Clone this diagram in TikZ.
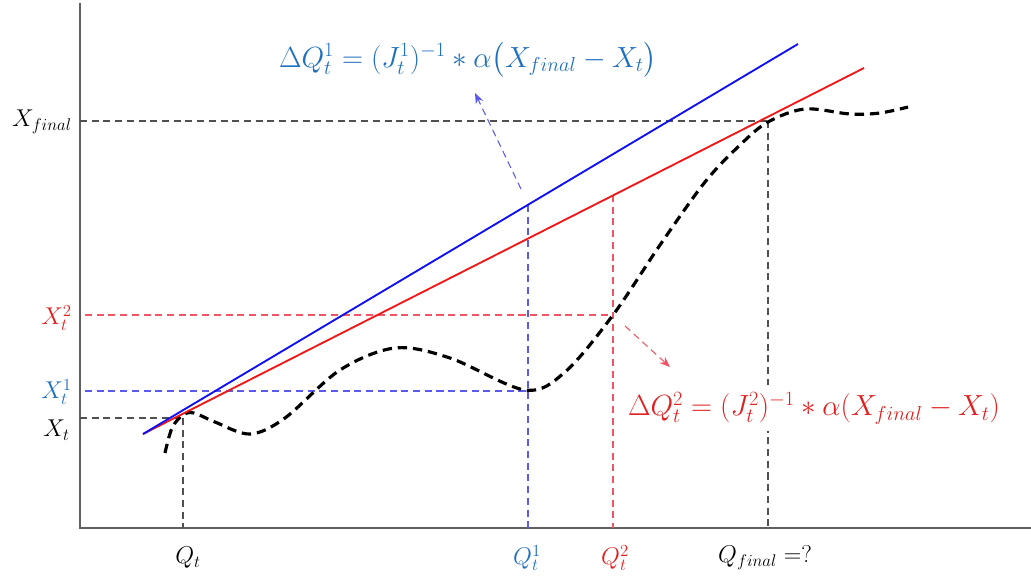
\documentclass[tikz,border=0pt]{standalone}
\usepackage{amsmath}
\usetikzlibrary{arrows.meta}
\definecolor{axisgrey}{HTML}{606060}
\definecolor{guidegrey}{HTML}{505050}
\definecolor{lineblue}{HTML}{1010F0}
\definecolor{linered}{HTML}{F01818}
\definecolor{textblue}{HTML}{1F6FBF}
\definecolor{textred}{HTML}{E0201F}
\definecolor{guideblue}{HTML}{5A5AF0}
\definecolor{guidered}{HTML}{F05565}
\begin{document}
\begin{tikzpicture}[x=0.03cm,y=-0.03cm,
  axisline/.style={draw=axisgrey,line width=1.4pt},
  guide/.style={line width=0.9pt,dash pattern=on 6pt off 4pt},
  lbl/.style={inner sep=0pt,font=\fontsize{21}{24}\selectfont},
  formula/.style={inner sep=0pt,font=\fontsize{25}{28}\selectfont},
  curvestyle/.style={line width=2.7pt,dash pattern=on 8pt off 5pt,black}
]
\useasboundingbox (0,0) rectangle (1031,584);
% axes
\coordinate (otop) at (80,3);
\coordinate (orig) at (80,528);
\coordinate (xend) at (1031,528);
\draw[axisline] (otop) -- (orig) -- (xend);
% key points
\coordinate (start) at (143,434);
\coordinate (bend) at (798,44);
\coordinate (rend) at (864,68);
\coordinate (pb) at (528,205);
\coordinate (pr) at (613,195);
\coordinate (pf) at (768,121);
\coordinate (pt) at (183,418);
% guides
\draw[guide,draw=guidegrey] (80,121) coordinate (lf) -- (pf);
\draw[guide,draw=guidegrey] (pf) -- (768,528) coordinate (bf);
\draw[guide,draw=guidered] (85,315) coordinate (l2) -- (613,315) coordinate (c2);
\draw[guide,draw=guidered] (pr) -- (613,528) coordinate (b2);
\draw[guide,draw=guideblue] (85,391) coordinate (l1) -- (528,391) coordinate (c1);
\draw[guide,draw=guideblue] (pb) -- (528,528) coordinate (b1);
\draw[guide,draw=guidegrey] (80,418) coordinate (lt) -- (pt);
\draw[guide,draw=guidegrey] (pt) -- (183,528) coordinate (bt);
% curve
\draw[curvestyle] plot[smooth,tension=0.55] coordinates {
 (165,453) (172,428) (183,415) (194,413) (215,422) (250,434) (285,418)
 (340,370) (395,348) (450,358) (525,390) (565,372) (613,315)
 (660,245) (705,182) (740,145) (768,122) (805,109) (850,114) (880,113) (908,107)};
% tangent lines
\draw[linered,line width=1.6pt] (start) -- (rend);
\draw[lineblue,line width=1.6pt] (start) -- (bend);
% arrows
\coordinate (ba1) at (521,189);
\coordinate (ba2) at (475,93);
\draw[guideblue,line width=0.9pt,dash pattern=on 6pt off 4pt,-{Stealth[length=9pt,width=7pt]}] (ba1) -- (ba2);
\coordinate (ra1) at (625,326);
\coordinate (ra2) at (670,367);
\draw[guidered,line width=0.9pt,dash pattern=on 6pt off 4pt,-{Stealth[length=9pt,width=7pt]}] (ra1) -- (ra2);
% formulas
\node[formula,text=textblue] (f1) at (468,60) {$\Delta Q_t^1 = (J_t^1)^{-1} * \alpha\big(X_{final} - X_t\big)$};
\node[formula,text=textred,fill=white,inner xsep=2pt,inner ysep=6pt] (f2) at (814,408) {$\Delta Q_t^2 = (J_t^2)^{-1} * \alpha(X_{final} - X_t)$};
% axis labels
\node[lbl,anchor=east] (lxf) at (72,122) {$X_{final}$};
\node[lbl,anchor=east,text=textred] (lx2) at (72,318) {$X_t^2$};
\node[lbl,anchor=east,text=textblue] (lx1) at (72,392) {$X_t^1$};
\node[lbl,anchor=east] (lxt) at (70,430) {$X_t$};
\node[lbl] (lqt) at (188,558) {$Q_t$};
\node[lbl,text=textblue] (lq1) at (527,558) {$Q_t^1$};
\node[lbl,text=textred] (lq2) at (615,558) {$Q_t^2$};
\node[lbl,anchor=west] (lqf) at (718,558) {$Q_{final}=?$};
\end{tikzpicture}
\end{document}
